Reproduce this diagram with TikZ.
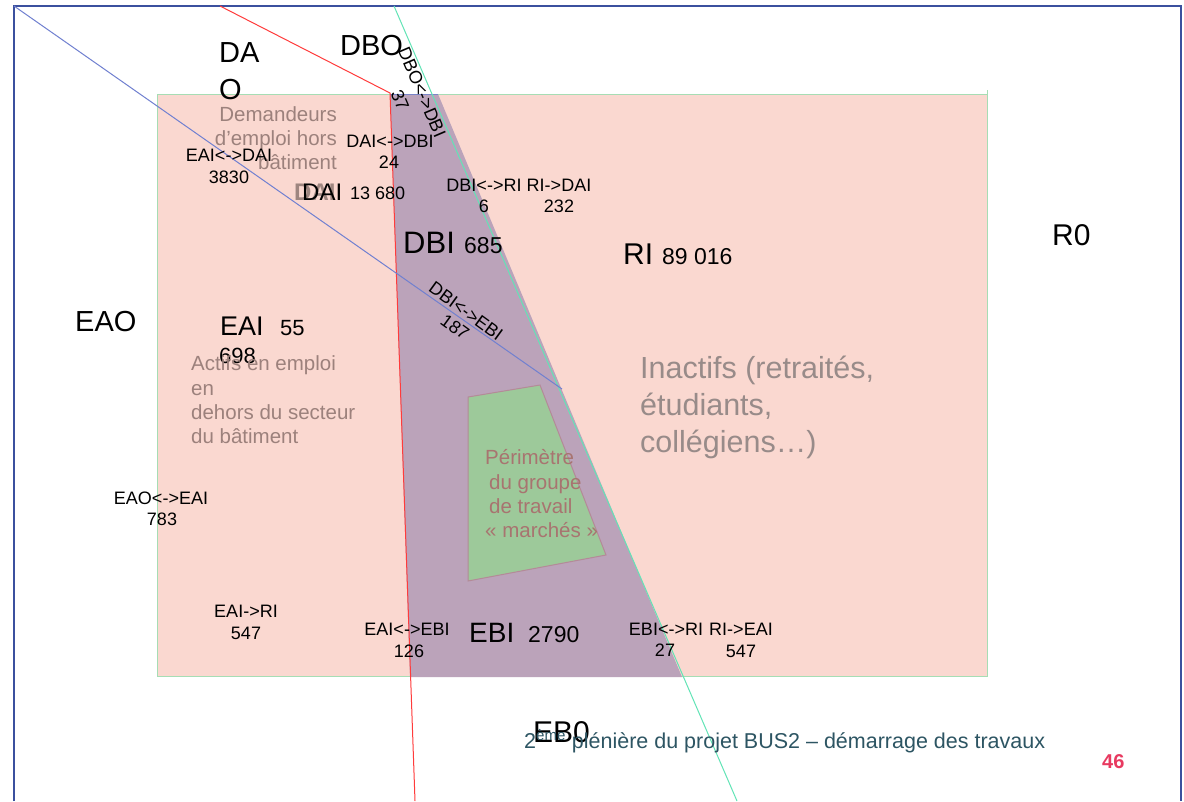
\documentclass[tikz,border=0pt]{standalone}
\usepackage{fontspec}
\setmainfont{Liberation Sans}
\definecolor{framec}{HTML}{3B509E}
\definecolor{salmon}{HTML}{FAD8D0}
\definecolor{mauve}{HTML}{BBA3BA}
\definecolor{grnfill}{HTML}{9DC99A}
\definecolor{grnedge}{HTML}{B48A98}
\definecolor{rectedge}{HTML}{A6DDB4}
\definecolor{redl}{HTML}{FF3B3B}
\definecolor{cyanl}{HTML}{62E4B6}
\definecolor{bluel}{HTML}{7080D0}
\definecolor{topedge}{HTML}{7A86C8}
\definecolor{graytxt}{HTML}{9C817C}
\definecolor{inact}{HTML}{988B89}
\definecolor{perim}{HTML}{A87470}
\definecolor{shadowc}{HTML}{9E8680}
\definecolor{foot}{HTML}{2D5563}
\definecolor{pnum}{HTML}{E83A60}
\begin{document}
\begin{tikzpicture}[x=1pt,y=-1pt,
  small/.style={font=\fontsize{18}{21}\selectfont, inner sep=0pt, anchor=base},
  big/.style={font=\fontsize{29}{33}\selectfont, inner sep=0pt, anchor=base west},
  num/.style={font=\fontsize{22}{26}\selectfont, inner sep=0pt, anchor=base west},
  gtxt/.style={font=\fontsize{20.5}{24}\selectfont, text=graytxt, inner sep=0pt},
  itxt/.style={font=\fontsize{30.5}{36}\selectfont, text=inact, inner sep=0pt, anchor=base west},
  ptxt/.style={font=\fontsize{20.5}{24}\selectfont, text=perim, inner sep=0pt, anchor=base west},
  thinline/.style={line width=1pt}]
\useasboundingbox (0,0) rectangle (1184,801);
\fill[white] (0,0) rectangle (1184,801);
% frame
\draw[framec, line width=2.5pt] (14,801) -- (14,6) -- (1181,6) -- (1181,801);
% regions
\coordinate (r1) at (157,94); \coordinate (r2) at (987,676);
\fill[salmon] (r1) rectangle (r2);
\draw[rectedge, line width=0.9pt] (r1) rectangle (r2);
\draw[rectedge, line width=0.9pt] (987,90) -- (987,98);
\coordinate (p1) at (390,94); \coordinate (p2) at (438,94);
\coordinate (p3) at (682,677); \coordinate (p4) at (410,677);
\fill[mauve] (p1) -- (p2) -- (p3) -- (p4) -- cycle;
\draw[topedge, line width=1pt] (p1) -- (p2);
\coordinate (g1) at (468,397); \coordinate (g2) at (540,385);
\coordinate (g3) at (606,555); \coordinate (g4) at (468,581);
\draw[grnedge, fill=grnfill, line width=1pt] (g1) -- (g2) -- (g3) -- (g4) -- cycle;
% lines
\coordinate (ra) at (220,6); \coordinate (rb) at (390,93); \coordinate (rc) at (415,801);
\draw[redl, thinline] (ra) -- (rb) -- (rc);
\coordinate (ca) at (394,6); \coordinate (cb) at (737,801);
\draw[cyanl, thinline] (ca) -- (cb);
\coordinate (ba) at (14,6); \coordinate (bb) at (562,389);
\draw[bluel, thinline] (ba) -- (bb);
% big labels
\node[big] (dao1) at (219,62) {DA};
\node[big] (dao2) at (219,99) {O};
\node[big] (dbo) at (340,55) {DBO};
\node[big, font=\fontsize{30}{34}\selectfont] (r0) at (1052,245) {R0};
\node[big] (eao) at (75,331) {EAO};
\node[big, font=\fontsize{31}{34}\selectfont] (dbi) at (403,253) {DBI};
\node[num, font=\fontsize{23}{26}\selectfont] (dbin) at (464,253) {685};
\node[big, font=\fontsize{30}{34}\selectfont] (ri) at (623,264) {RI};
\node[num, font=\fontsize{23}{26}\selectfont] (rin) at (662,264) {89 016};
\node[big, font=\fontsize{27}{32}\selectfont] (eai) at (220,335) {EAI};
\node[num] (eain1) at (280,335) {55};
\node[num] (eain2) at (219,363) {698};
\node[big, font=\fontsize{28}{32}\selectfont] (ebi) at (469,642) {EBI};
\node[num, font=\fontsize{23}{26}\selectfont] (ebin) at (528,642) {2790};
\node[big, font=\fontsize{30}{34}\selectfont] (eb0) at (533,742) {EB0};
% DAI with shadow
\node[big, font=\fontsize{24}{28}\selectfont\bfseries, text=shadowc] (daish) at (294,200) {DAI};
\node[big, font=\fontsize{24}{28}\selectfont] (dai) at (302,200) {DAI};
\node[small, anchor=base west] (dain) at (350,199) {13 680};
% gray descriptive texts
\node[gtxt, anchor=base east] (dem1) at (337,121) {Demandeurs};
\node[gtxt, anchor=base east] (dem2) at (337,145) {d’emploi hors};
\node[gtxt, anchor=base east] (dem3) at (337,169) {bâtiment};
\node[gtxt, anchor=base west] (act1) at (191,370) {Actifs en emploi};
\node[gtxt, anchor=base west] (act2) at (191,395) {en};
\node[gtxt, anchor=base west] (act3) at (191,419) {dehors du secteur};
\node[gtxt, anchor=base west] (act4) at (191,443) {du bâtiment};
\node[itxt] (ina1) at (640,378) {Inactifs (retraités,};
\node[itxt] (ina2) at (640,415) {étudiants,};
\node[itxt] (ina3) at (640,452) {collégiens…)};
\node[ptxt] (per1) at (485,464) {Périmètre};
\node[ptxt] (per2) at (489,489) {du groupe};
\node[ptxt] (per3) at (489,513) {de travail};
\node[ptxt] (per4) at (485,537) {« marchés »};
% flow labels
\node[small] (f1) at (229,161) {EAI<->DAI};
\node[small] (f1n) at (229,183) {3830};
\node[small] (f2) at (390,147) {DAI<->DBI};
\node[small] (f2n) at (389,168) {24};
\node[small] (f3) at (484,191) {DBI<->RI};
\node[small] (f3n) at (484,212) {6};
\node[small] (f4) at (559,191) {RI->DAI};
\node[small] (f4n) at (559,212) {232};
\node[small, anchor=center, rotate=-67] (f5) at (422,92) {DBO<->DBI};
\node[small, anchor=center, rotate=-67] (f5n) at (400,100) {37};
\node[small, anchor=center, rotate=-36] (f6) at (466,311) {DBI<->EBI};
\node[small, anchor=center, rotate=-36] (f6n) at (455,327) {187};
\node[small] (f7) at (161,504) {EAO<->EAI};
\node[small] (f7n) at (162,525) {783};
\node[small] (f8) at (246,617) {EAI->RI};
\node[small] (f8n) at (246,639) {547};
\node[small] (f9) at (407,635) {EAI<->EBI};
\node[small] (f9n) at (409,657) {126};
\node[small] (f10) at (666,635) {EBI<->RI};
\node[small] (f10n) at (665,656) {27};
\node[small] (f11) at (741,635) {RI->EAI};
\node[small] (f11n) at (741,657) {547};
% footer
\node[inner sep=0pt, anchor=base west, text=foot, font=\fontsize{21.5}{24}\selectfont] (footer) at (524,748) {2\textsuperscript{ème} plénière du projet BUS2 -- démarrage des travaux};
\node[inner sep=0pt, anchor=base west, text=pnum, font=\fontsize{20}{24}\selectfont\bfseries] (page) at (1102,768) {46};
\end{tikzpicture}
\end{document}
